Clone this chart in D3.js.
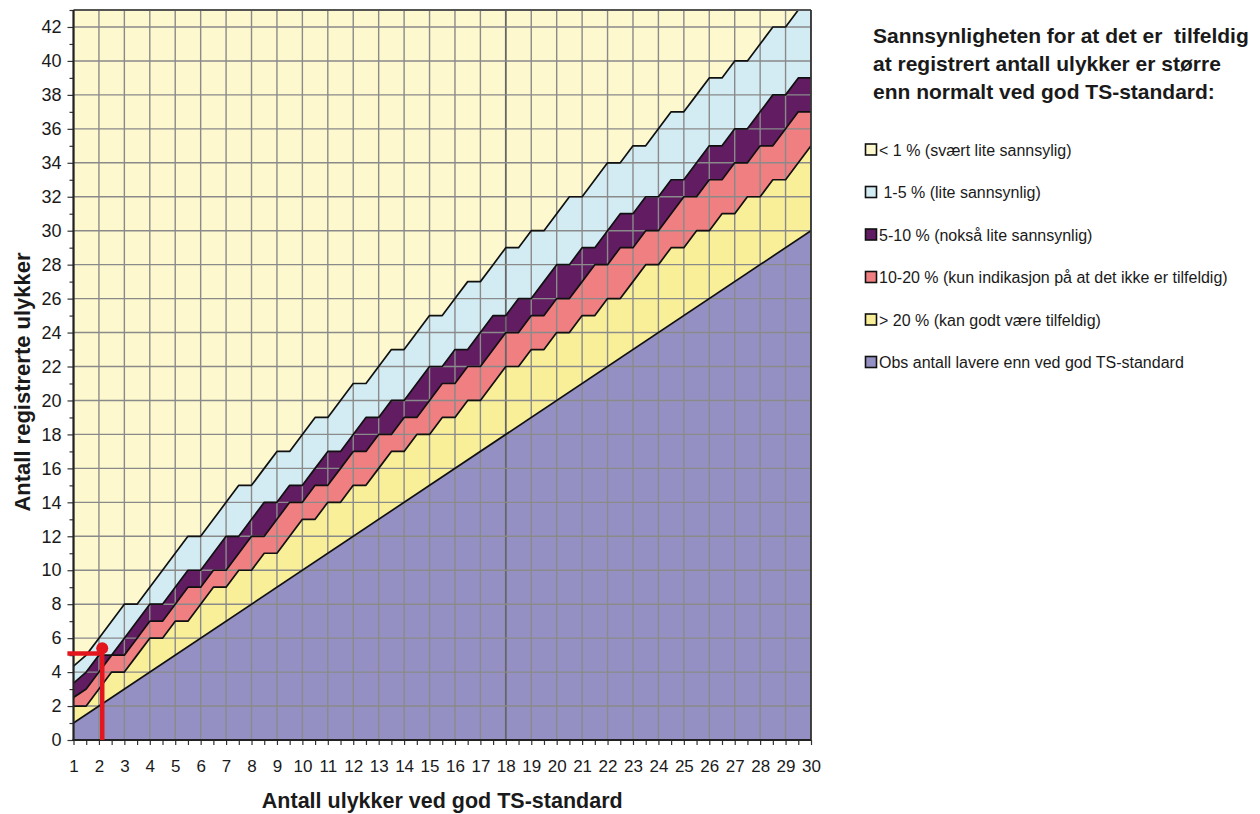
<!DOCTYPE html>
<html><head><meta charset="utf-8">
<script src="https://cdn.jsdelivr.net/npm/d3@7"></script>
<style>
body{margin:0;background:#fff}
svg{display:block}
text{font-family:"Liberation Sans",Arial,Helvetica,sans-serif;fill:#1a1a1a}
</style>
</head><body>
<svg id="c" width="1260" height="814"></svg>
<script>
// ---------- data ----------
const xs   = [1,1.5,2,2.5,3,3.5,4,4.5,5,5.5,6,6.5,7,7.5,8,8.5,9,9.5,10,10.5,11,11.5,12,12.5,13,13.5,14,14.5,15,15.5,16,16.5,17,17.5,18,18.5,19,19.5,20,20.5,21,21.5,22,22.5,23,23.5,24,24.5,25,25.5,26,26.5,27,27.5,28,28.5,29,29.5,30];
// upper edge of the "1-5 %" band (1 % level)
const p1   = [4.35,5,6,7,8,8,9,10,11,12,12,13,14,15,15,16,17,17,18,19,19,20,21,21,22,23,23,24,25,25,26,27,27,28,29,29,30,30,31,32,32,33,34,34,35,35,36,37,37,38,39,39,40,40,41,42,42,43,43];
// upper edge of the "5-10 %" band (5 % level)
const p5   = [3.35,4,5,5,6,7,8,8,9,10,10,11,12,12,13,14,14,15,15,16,17,17,18,19,19,20,20,21,22,22,23,23,24,25,25,26,26,27,28,28,29,29,30,31,31,32,32,33,33,34,35,35,36,36,37,38,38,39,39];
// upper edge of the "10-20 %" band (10 % level)
const p10  = [2.5,3,4,5,5,6,7,7,8,9,9,10,10,11,12,12,13,14,14,15,15,16,17,17,18,18,19,19,20,21,21,22,22,23,24,24,25,25,26,26,27,28,28,29,29,30,30,31,32,32,33,33,34,34,35,35,36,37,37];
// upper edge of the "> 20 %" band (20 % level)
const p20  = [2,2,3,4,4,5,6,6,7,7,8,9,9,10,10,11,11,12,13,13,14,14,15,15,16,17,17,18,18,19,19,20,20,21,22,22,23,23,24,24,25,25,26,26,27,28,28,29,29,30,30,31,31,32,32,33,33,34,35];
// "normal" line (observed = expected)
const normX = [1, 30];
const normY = [1, 30];

const xTickLabels = [1,2,3,4,5,6,7,8,9,10,11,12,13,14,15,16,17,18,19,20,21,22,23,24,25,26,27,28,29,30];
const xMinorTicks = [1.5,2.5,3.5,4.5,5.5,6.5,7.5,8.5,9.5,10.5,11.5,12.5,13.5,14.5,15.5,16.5,17.5,18.5,19.5,20.5,21.5,22.5,23.5,24.5,25.5,26.5,27.5,28.5,29.5];
const yTickLabels = [0,2,4,6,8,10,12,14,16,18,20,22,24,26,28,30,32,34,36,38,40,42];
const yMinorTicks = [1,3,5,7,9,11,13,15,17,19,21,23,25,27,29,31,33,35,37,39,41,43];

const legendTitle = ["Sannsynligheten for at det er  tilfeldig",
                     "at registrert antall ulykker er større",
                     "enn normalt ved god TS-standard:"];
const legendLabels = ["< 1 % (svært lite sannsylig)",
                      " 1-5 % (lite sannsynlig)",
                      "5-10 % (nokså lite sannsynlig)",
                      "10-20 % (kun indikasjon på at det ikke er tilfeldig)",
                      "> 20 % (kan godt være tilfeldig)",
                      "Obs antall lavere enn ved god TS-standard"];
const colors = ["#fdf8cd","#d3ecf3","#611c62","#ef7f80","#f9ef98","#9490c4"];

// red example marker (expected 2.1, observed ~5)
const markX = 2.13, markY = 5.1, markDotY = 5.4, markLeft = 0.76;

// ---------- drawing ----------
const svg = d3.select("#c");
const x = d3.scaleLinear().domain([1,30]).range([73.5,811]);
const y = d3.scaleLinear().domain([0,43]).range([740,10]);

svg.append("defs").append("clipPath").attr("id","plot")
  .append("rect").attr("x",x(1)).attr("y",y(43)).attr("width",x(30)-x(1)).attr("height",y(0)-y(43));

const g = svg.append("g").attr("clip-path","url(#plot)");
g.append("rect").attr("x",x(1)).attr("y",y(43)).attr("width",x(30)-x(1)).attr("height",y(0)-y(43)).attr("fill",colors[0]);

const area = d3.area().x(d=>x(d.x)).y0(y(0)).y1(d=>y(d.v));
const line = d3.line().x(d=>x(d.x)).y(d=>y(d.v));
const bands = [p1,p5,p10,p20].map((arr,i)=>({data: xs.map((xv,j)=>({x:xv,v:arr[j]})), color: colors[i+1]}));
const normData = normX.map((xv,i)=>({x:xv,v:normY[i]}));

bands.forEach(b=>g.append("path").datum(b.data).attr("d",area).attr("fill",b.color));
g.append("path").datum(normData).attr("d",area).attr("fill",colors[5]);

// grid
g.selectAll("line.vg").data(xTickLabels).enter().append("line")
  .attr("x1",d=>x(d)).attr("x2",d=>x(d)).attr("y1",y(43)).attr("y2",y(0))
  .attr("stroke",d=>d===18?"#666":"#8a8a8a").attr("stroke-width",d=>d===18?1.8:1.4);
g.selectAll("line.hg").data(yTickLabels).enter().append("line")
  .attr("x1",x(1)).attr("x2",x(30)).attr("y1",d=>y(d)).attr("y2",d=>y(d))
  .attr("stroke","#8a8a8a").attr("stroke-width",1.4);

// band edges
bands.forEach(b=>g.append("path").datum(b.data).attr("d",line).attr("fill","none").attr("stroke","#111").attr("stroke-width",1.7).attr("stroke-linejoin","round"));
g.append("path").datum(normData).attr("d",line).attr("fill","none").attr("stroke","#111").attr("stroke-width",1.7);

// frame
svg.append("line").attr("x1",x(1)).attr("x2",x(30)).attr("y1",y(43)).attr("y2",y(43)).attr("stroke","#555").attr("stroke-width",1.8);
svg.append("line").attr("x1",x(30)).attr("x2",x(30)).attr("y1",y(43)).attr("y2",y(0)).attr("stroke","#333").attr("stroke-width",1.8);

// axes
const yAx = svg.append("g").attr("transform",`translate(${x(1)},0)`)
  .call(d3.axisLeft(y).tickValues(yTickLabels).tickSize(6).tickPadding(6).tickFormat(d3.format("d")));
const yAxMinor = svg.append("g").attr("transform",`translate(${x(1)},0)`)
  .call(d3.axisLeft(y).tickValues(yMinorTicks).tickSize(4).tickFormat(""));
const xAx = svg.append("g").attr("transform",`translate(0,${y(0)})`)
  .call(d3.axisBottom(x).tickValues(xTickLabels).tickSize(5).tickPadding(15).tickFormat(d3.format("d")));
const xAxMinor = svg.append("g").attr("transform",`translate(0,${y(0)})`)
  .call(d3.axisBottom(x).tickValues(xMinorTicks).tickSize(5).tickFormat(""));
[yAx,yAxMinor,xAx,xAxMinor].forEach(a=>{
  a.select(".domain").remove();
  a.selectAll(".tick line").attr("stroke","#333").attr("stroke-width",1.2);
});
yAx.selectAll("text").attr("font-size",18).attr("fill","#222").style("font-family",'"Liberation Sans",Arial,sans-serif');
xAx.selectAll("text").attr("font-size",17).attr("fill","#222").style("font-family",'"Liberation Sans",Arial,sans-serif');

svg.append("line").attr("x1",x(1)).attr("x2",x(1)).attr("y1",y(43)).attr("y2",y(0)+1).attr("stroke","#222").attr("stroke-width",2.2);
svg.append("line").attr("x1",x(1)-1).attr("x2",x(30)).attr("y1",y(0)).attr("y2",y(0)).attr("stroke","#222").attr("stroke-width",2.2);

// red example marker
const red = "#e3161e";
svg.append("line").attr("x1",x(markLeft)).attr("x2",x(markX)).attr("y1",y(markY)).attr("y2",y(markY))
  .attr("stroke",red).attr("stroke-width",4.5);
svg.append("line").attr("x1",x(markX)).attr("x2",x(markX)).attr("y1",y(0)).attr("y2",y(markDotY))
  .attr("stroke",red).attr("stroke-width",4.5);
svg.append("circle").attr("cx",x(markX)).attr("cy",y(markDotY)).attr("r",6).attr("fill",red);

// axis titles
svg.append("text").attr("x",(x(1)+x(30))/2).attr("y",808).attr("text-anchor","middle")
  .attr("font-size",21.5).attr("font-weight","bold").text("Antall ulykker ved god TS-standard");
svg.append("text").attr("transform","translate(30,382) rotate(-90)").attr("text-anchor","middle")
  .attr("font-size",22).attr("font-weight","bold").text("Antall registrerte ulykker");

// legend
const lg = svg.append("g");
legendTitle.forEach((t,i)=>lg.append("text").attr("x",873).attr("y",43+i*28)
  .attr("font-size",21).attr("font-weight","bold").style("white-space","pre").text(t));
const legendColors = colors;
legendLabels.forEach((t,i)=>{
  const cy = 150 + i*42.5;
  lg.append("rect").attr("x",865.5).attr("y",cy-6).attr("width",11).attr("height",11)
    .attr("fill",legendColors[i]).attr("stroke","#111").attr("stroke-width",1.6);
  lg.append("text").attr("x",879).attr("y",cy+5.5).attr("font-size",16).style("white-space","pre").text(t);
});
</script>
</body></html>
